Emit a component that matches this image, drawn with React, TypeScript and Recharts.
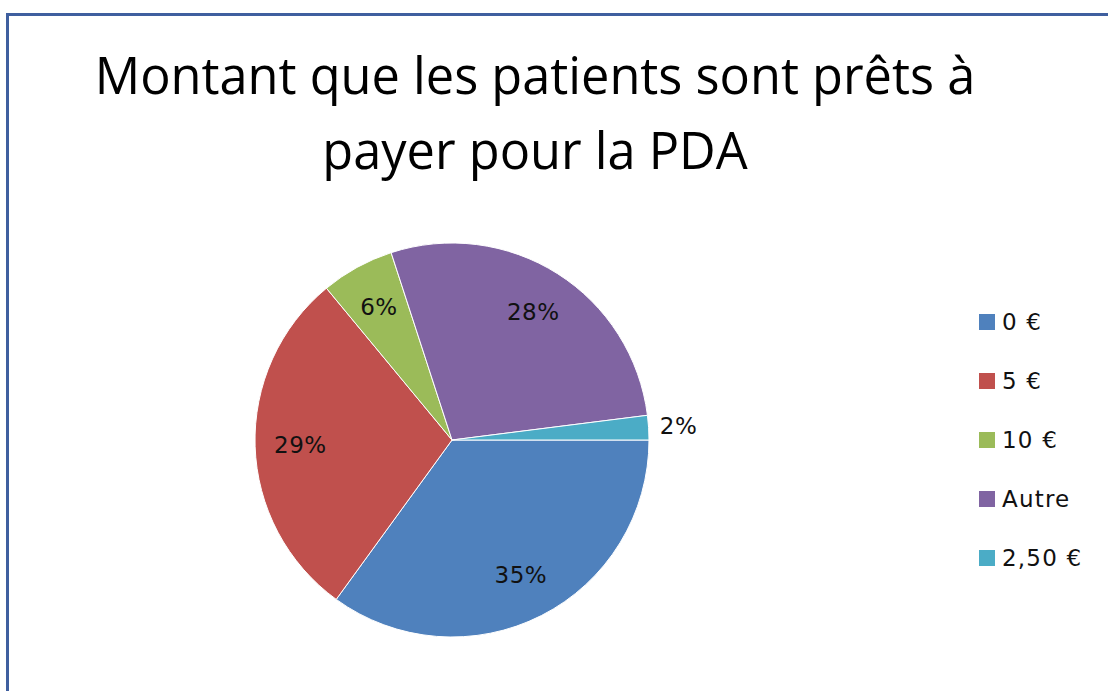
import React from "react";
import { PieChart, Pie, Cell, Legend } from "recharts";

const categories = ["0 €", "5 €", "10 €", "Autre", "2,50 €"];
const values = [35, 29, 6, 28, 2];
const colors = ["#4F81BD", "#C0504D", "#9BBB59", "#8064A2", "#4BACC6"];
const titleLines = ["Montant que les patients sont prêts à", "payer pour la PDA"];

const data = categories.map((name, i) => ({ name, value: values[i] }));
const total = values.reduce((a, b) => a + b, 0);

const RAD = Math.PI / 180;

const renderLabel = (props: any) => {
  const { cx, cy, midAngle, outerRadius, value } = props;
  const pct = value / total;
  const r = pct < 0.03 ? outerRadius + 30 : outerRadius * 0.77;
  const x = cx + r * Math.cos(-midAngle * RAD);
  const y = cy + r * Math.sin(-midAngle * RAD);
  return (
    <text
      x={x}
      y={y}
      textAnchor="middle"
      dominantBaseline="central"
      fill="#111"
      fontFamily="DejaVu Sans"
      fontSize={23}
      letterSpacing={0.5}
    >
      {`${Math.round(pct * 100)}%`}
    </text>
  );
};

const renderLegend = () => (
  <div style={{ fontFamily: "DejaVu Sans", fontSize: 23, letterSpacing: 1.2, color: "#111" }}>
    {data.map((d, i) => (
      <div
        key={d.name}
        style={{ display: "flex", alignItems: "center", height: 59 }}
      >
        <span
          style={{
            display: "inline-block",
            width: 16,
            height: 16,
            background: colors[i],
            marginRight: 7,
          }}
        />
        <span>{d.name}</span>
      </div>
    ))}
  </div>
);

export default function App() {
  return (
    <div
      style={{
        position: "absolute",
        left: 0,
        top: 0,
        width: 1108,
        height: 691,
        overflow: "hidden",
        background: "#fff",
      }}
    >
      <div
        style={{
          position: "absolute",
          left: 6,
          top: 13,
          width: 1300,
          height: 900,
          border: "3px solid #3F5F9F",
          boxSizing: "border-box",
        }}
      />
      <div
        style={{
          position: "absolute",
          left: 0,
          top: 37,
          width: 1070,
          textAlign: "center",
          fontFamily: "'Open Sans'",
          fontSize: 50.5,
          lineHeight: "75px",
          color: "#000",
        }}
      >
        {titleLines.map((t) => (
          <div key={t}>{t}</div>
        ))}
      </div>
      <div style={{ position: "absolute", left: 0, top: 0 }}>
        <PieChart width={1108} height={691} margin={{ top: 0, right: 0, bottom: 0, left: 0 }}>
          <Pie
            data={data}
            dataKey="value"
            nameKey="name"
            cx={452}
            cy={440}
            outerRadius={197}
            startAngle={0}
            endAngle={-360}
            stroke="#fff"
            strokeWidth={1}
            label={renderLabel}
            labelLine={false}
            isAnimationActive={false}
          >
            {data.map((d, i) => (
              <Cell key={d.name} fill={colors[i]} />
            ))}
          </Pie>
          <Legend
            content={renderLegend}
            wrapperStyle={{ left: 979, top: 292, width: 130 }}
          />
        </PieChart>
      </div>
    </div>
  );
}
